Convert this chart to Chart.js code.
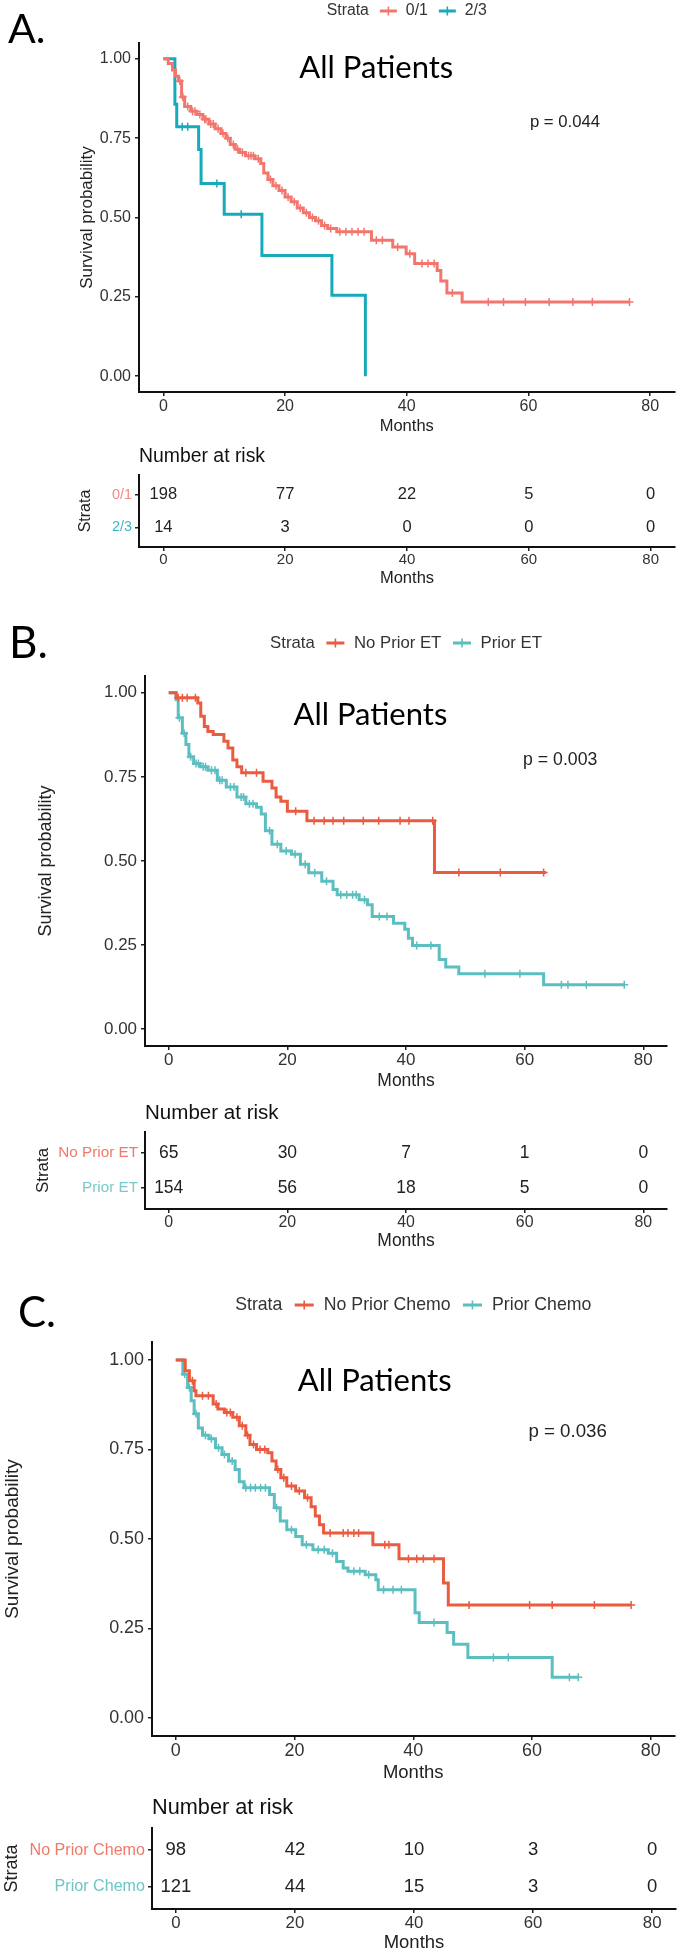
<!DOCTYPE html>
<html>
<head>
<meta charset="utf-8">
<script src="https://cdn.jsdelivr.net/npm/chart.js@4.4.1/dist/chart.umd.min.js"></script>
<style>
  body { margin: 0; background: #fff; }
  #page { position: relative; width: 680px; height: 1955px; background: #fff; overflow: hidden; }
  #page canvas { position: absolute; left: 0; }
</style>
</head>
<body>
<div id="page">
  <canvas id="kmA" width="680" height="436" style="top:0px"></canvas>
  <canvas id="riskA" width="680" height="148" style="top:440px"></canvas>
  <canvas id="kmB" width="680" height="492" style="top:600px"></canvas>
  <canvas id="riskB" width="680" height="157" style="top:1095px"></canvas>
  <canvas id="kmC" width="680" height="499" style="top:1285px"></canvas>
  <canvas id="riskC" width="680" height="167" style="top:1787px"></canvas>
</div>
<script>
// axes shared by all three panels
const months = [0, 20, 40, 60, 80];
const survTicks = [0, 0.25, 0.5, 0.75, 1];
const survTickLabels = ['0.00', '0.25', '0.50', '0.75', '1.00'];

// A. ECOG 0/1 vs 2/3
const aStrata = ['0/1', '2/3'];
const aTime01 = [0, 0.8, 1.5, 2.0, 2.5, 3.0, 3.5, 4.5, 5.5, 6.5, 7.5, 8.5, 9.5, 10.3, 11.0, 11.8, 12.5, 13.5, 15.0, 16.0, 16.5, 17.2, 18.0, 19.0, 20.0, 21.0, 22.0, 23.0, 24.0, 25.0, 26.0, 27.0, 28.5, 34.2, 37.7, 39.9, 41.3, 45.0, 45.6, 46.6, 49.1, 76.6];
const aSurv01 = [1, 0.985, 0.965, 0.945, 0.93, 0.88, 0.85, 0.835, 0.825, 0.81, 0.795, 0.78, 0.765, 0.75, 0.73, 0.715, 0.705, 0.695, 0.685, 0.67, 0.64, 0.62, 0.60, 0.585, 0.565, 0.55, 0.53, 0.515, 0.50, 0.49, 0.475, 0.465, 0.455, 0.428, 0.407, 0.386, 0.355, 0.333, 0.30, 0.262, 0.234, 0.234];
const aCens01 = [2.7, 3.2, 4.0, 4.8, 5.2, 6.0, 6.8, 7.0, 7.8, 8.2, 9.0, 9.8, 10.6, 11.5, 12.2, 13.0, 14.0, 14.4, 14.8, 15.6, 17.6, 18.5, 19.5, 20.5, 21.5, 22.5, 23.5, 24.5, 25.5, 26.5, 27.5, 29.0, 30.0, 31.0, 32.0, 33.0, 35.0, 36.0, 38.5, 40.5, 42.5, 43.5, 44.5, 47.5, 53.4, 55.9, 59.5, 63.4, 67.3, 70.5, 76.6];
const aTime23 = [0, 1.9, 2.2, 5.8, 6.2, 10.0, 16.2, 27.7, 33.2];
const aSurv23 = [1, 0.857, 0.786, 0.714, 0.607, 0.51, 0.38, 0.255, 0];
const aCens23 = [3.1, 4.0, 8.8, 12.8];
const aRisk01 = [198, 77, 22, 5, 0];
const aRisk23 = [14, 3, 0, 0, 0];

// B. prior endocrine therapy
const bStrata = ['No Prior ET', 'Prior ET'];
const bTimeNo = [0, 1.25, 4.9, 5.4, 6.0, 6.6, 7.5, 9.3, 10.0, 10.8, 11.5, 12.3, 15.9, 17.4, 18.1, 18.9, 20.0, 23.3, 44.8, 63.6];
const bSurvNo = [1, 0.985, 0.97, 0.93, 0.90, 0.885, 0.876, 0.856, 0.836, 0.80, 0.78, 0.762, 0.737, 0.717, 0.69, 0.678, 0.648, 0.62, 0.466, 0.466];
const bCensNo = [1.6, 2.3, 3.1, 4.5, 13.0, 14.8, 21.4, 24.5, 26.2, 27.7, 29.5, 32.8, 35.4, 39.0, 40.5, 44.5, 48.9, 55.9, 63.2];
const bTimeYes = [0, 1.25, 1.6, 2.3, 2.9, 3.4, 4.2, 5.3, 6.6, 8.2, 9.7, 11.5, 13.0, 14.8, 15.6, 16.3, 17.4, 18.9, 20.7, 22.2, 23.6, 25.8, 27.7, 28.4, 32.1, 33.5, 34.3, 37.9, 39.8, 40.4, 41.1, 45.6, 46.7, 48.9, 63.2, 76.8];
const bSurvYes = [1, 0.98, 0.926, 0.88, 0.846, 0.81, 0.79, 0.78, 0.77, 0.74, 0.72, 0.69, 0.67, 0.66, 0.64, 0.59, 0.55, 0.53, 0.52, 0.49, 0.465, 0.44, 0.415, 0.40, 0.385, 0.37, 0.335, 0.315, 0.297, 0.27, 0.249, 0.207, 0.185, 0.165, 0.132, 0.132];
const bCensYes = [1.8, 2.6, 3.7, 4.6, 5.0, 5.8, 6.2, 7.2, 7.8, 8.6, 9.0, 10.4, 11.0, 12.2, 12.6, 13.6, 14.2, 17.0, 18.3, 19.8, 21.3, 23.0, 24.6, 26.6, 29.0, 30.0, 31.0, 31.6, 33.0, 35.5, 36.8, 41.8, 44.2, 53.3, 59.2, 66.2, 67.3, 70.4, 76.8];
const bRiskNo = [65, 30, 7, 1, 0];
const bRiskYes = [154, 56, 18, 5, 0];

// C. prior chemotherapy
const cStrata = ['No Prior Chemo', 'Prior Chemo'];
const cTimeNo = [0, 1.6, 2.3, 3.1, 3.4, 6.3, 7.1, 8.2, 9.6, 10.7, 11.8, 12.5, 13.6, 15.5, 16.2, 16.9, 17.7, 18.7, 20.2, 21.7, 22.8, 23.5, 24.2, 24.9, 33.2, 37.6, 45.1, 45.9, 76.7];
const cSurvNo = [1, 0.97, 0.942, 0.914, 0.90, 0.877, 0.863, 0.853, 0.84, 0.816, 0.79, 0.764, 0.75, 0.741, 0.718, 0.694, 0.671, 0.648, 0.634, 0.615, 0.59, 0.564, 0.54, 0.517, 0.484, 0.445, 0.377, 0.316, 0.316];
const cCensNo = [2.8, 4.5, 5.5, 6.8, 8.6, 9.2, 10.3, 11.2, 12.1, 13.1, 14.2, 15.0, 17.2, 18.2, 19.5, 20.8, 22.2, 26.0, 28.2, 29.0, 30.0, 30.8, 35.2, 35.9, 39.2, 40.6, 41.7, 43.5, 49.4, 59.6, 63.4, 70.5, 76.7];
const cTimeYes = [0, 1.2, 2.0, 2.6, 3.1, 3.8, 4.5, 5.6, 6.7, 7.8, 8.9, 10.0, 10.7, 11.5, 15.8, 16.6, 17.6, 18.7, 20.2, 21.3, 23.1, 25.7, 27.1, 28.2, 29.0, 31.9, 33.7, 34.1, 40.3, 41.0, 45.7, 46.8, 49.2, 63.4, 67.8];
const cSurvYes = [1, 0.96, 0.923, 0.886, 0.85, 0.81, 0.79, 0.78, 0.755, 0.736, 0.718, 0.694, 0.66, 0.643, 0.624, 0.587, 0.55, 0.526, 0.507, 0.484, 0.47, 0.46, 0.437, 0.419, 0.41, 0.40, 0.386, 0.358, 0.294, 0.267, 0.239, 0.206, 0.169, 0.114, 0.114];
const cCensYes = [1.5, 2.3, 3.4, 5.0, 6.0, 7.2, 8.2, 9.5, 11.8, 12.6, 13.4, 14.3, 15.1, 17.0, 19.5, 22.0, 24.0, 25.0, 26.4, 30.0, 31.0, 32.5, 35.0, 36.6, 38.0, 43.5, 53.5, 56.0, 66.3, 67.8];
const cRiskNo = [98, 42, 10, 3, 0];
const cRiskYes = [121, 44, 15, 3, 0];

const SANS = '"Liberation Sans", Arial, sans-serif';
Chart.defaults.font.family = SANS;
Chart.defaults.color = '#333';

// value of a KM step curve at time t (for placing censor ticks on the curve)
function stepAt(times, surv, t) {
    let v = surv[0];
    for (let i = 0; i < times.length; i++) if (times[i] <= t) v = surv[i];
    return v;
}

const kmDecor = {
    id: 'kmDecor',
    afterDraw(chart, args, o) {
        const { ctx, chartArea, scales: { x, y } } = chart;
        const k = o.k;
        ctx.save();
        ctx.fillStyle = '#000';
        ctx.textAlign = 'left';
        ctx.textBaseline = 'alphabetic';
        ctx.font = o.letterSize + 'px Lato';
        ctx.fillText(o.letter, o.letterX, o.letterY);

        ctx.textAlign = 'center';
        ctx.textBaseline = 'middle';
        ctx.font = '31px Lato';
        ctx.fillText('All Patients', x.getPixelForValue(o.headX), y.getPixelForValue(o.headY));

        ctx.fillStyle = '#222';
        ctx.font = (16.7 * k) + 'px ' + SANS;
        ctx.fillText(o.pval, x.getPixelForValue(66), y.getPixelForValue(0.8));

        // legend: Strata  -+- a  -+- b
        ctx.font = (15.8 * k) + 'px ' + SANS;
        ctx.fillStyle = '#333';
        const keyW = 17 * k, g1 = 11 * k, g2 = 9 * k, g3 = 11 * k;
        const w0 = ctx.measureText('Strata').width;
        const ws = o.names.map(n => ctx.measureText(n).width);
        let total = w0 + g1;
        ws.forEach((w, i) => { total += keyW + g2 + w + (i < ws.length - 1 ? g3 : 0); });
        let lx = (chartArea.left + chartArea.right) / 2 - total / 2;
        const ly = o.legendY;
        ctx.textAlign = 'left';
        ctx.fillText('Strata', lx, ly);
        lx += w0 + g1;
        o.names.forEach((n, i) => {
            ctx.strokeStyle = o.colors[i];
            ctx.lineWidth = 3;
            ctx.beginPath(); ctx.moveTo(lx, ly); ctx.lineTo(lx + keyW, ly); ctx.stroke();
            ctx.lineWidth = 1.6;
            ctx.beginPath(); ctx.moveTo(lx + keyW / 2, ly - 4.5); ctx.lineTo(lx + keyW / 2, ly + 4.5); ctx.stroke();
            lx += keyW + g2;
            ctx.fillStyle = '#333';
            ctx.fillText(n, lx, ly);
            lx += ws[i] + g3;
        });
        ctx.restore();
    }
};

const riskDecor = {
    id: 'riskDecor',
    afterDraw(chart, args, o) {
        const { ctx, chartArea, scales: { x, y } } = chart;
        const k = o.k;
        ctx.save();
        ctx.fillStyle = '#111';
        ctx.textAlign = 'left';
        ctx.textBaseline = 'middle';
        ctx.font = (19.4 * k) + 'px ' + SANS;
        ctx.fillText('Number at risk', chartArea.left, chartArea.top - o.headGap);
        ctx.font = (16.5 * k) + 'px ' + SANS;
        ctx.fillStyle = '#222';
        ctx.textAlign = 'center';
        o.rows.forEach((row, r) => {
            row.forEach((n, i) => {
                ctx.fillText(String(n), x.getPixelForValue(months[i]), y.getPixelForValue(r + 1));
            });
        });
        ctx.restore();
    }
};

function axisX(h, pad, tickSize, titleSize) {
    return {
        type: 'linear', min: -4, max: 84,
        afterBuildTicks: sc => { sc.ticks = months.map(v => ({ value: v })); },
        afterFit: sc => { sc.height = h; },
        ticks: { autoSkip: false, padding: pad, font: { size: tickSize }, color: '#333', callback: (v, i) => String(months[i]) },
        grid: { drawOnChartArea: false, tickLength: 4, color: '#222', lineWidth: 1.5 },
        border: { display: true, color: '#111', width: 2 },
        title: { display: true, text: 'Months', font: { size: titleSize }, color: '#222', padding: 0 }
    };
}

function kmChart(id, p) {
    const k = p.k;
    const datasets = [];
    p.curves.forEach(cv => {
        datasets.push({
            data: cv.t.map((t, i) => ({ x: t, y: cv.s[i] })),
            showLine: true, stepped: 'before', borderColor: cv.color, borderWidth: 3,
            pointRadius: 0, fill: false
        });
        datasets.push({
            data: cv.c.map(t => ({ x: t, y: stepAt(cv.t, cv.s, t) })),
            showLine: false, pointStyle: 'cross', pointRadius: 4,
            borderColor: cv.color, borderWidth: 1.5, backgroundColor: cv.color
        });
    });
    new Chart(document.getElementById(id), {
        type: 'scatter',
        data: { datasets: datasets },
        options: {
            responsive: false, animation: false, events: [],
            layout: { padding: { top: p.padTop, right: p.padRight, left: 0, bottom: 0 } },
            plugins: {
                legend: { display: false }, tooltip: { enabled: false },
                kmDecor: Object.assign({ k: k }, p.decor)
            },
            scales: {
                x: axisX(p.xH, p.xPad, 16 * k, 16.5 * k),
                y: {
                    type: 'linear', min: -0.05, max: 1.05,
                    afterBuildTicks: sc => { sc.ticks = survTicks.map(v => ({ value: v })); },
                    afterFit: sc => { sc.width = p.left; },
                    ticks: { autoSkip: false, padding: 4, font: { size: 16 * k }, color: '#333', callback: (v, i) => survTickLabels[i] },
                    grid: { drawOnChartArea: false, tickLength: 4, color: '#222', lineWidth: 1.5 },
                    border: { display: true, color: '#111', width: 2 },
                    title: { display: true, text: 'Survival probability', font: { size: 17 * k }, color: '#222', padding: { top: p.yTitlePad, bottom: 0 } }
                }
            }
        },
        plugins: [kmDecor]
    });
}

function riskChart(id, p) {
    const k = p.k;
    new Chart(document.getElementById(id), {
        type: 'scatter',
        data: { datasets: [] },
        options: {
            responsive: false, animation: false, events: [],
            layout: { padding: { top: p.padTop, right: p.padRight, left: 0, bottom: 0 } },
            plugins: { legend: { display: false }, tooltip: { enabled: false }, riskDecor: { k: k, rows: p.rows, headGap: p.headGap } },
            scales: {
                x: axisX(p.xH, 0, 15 * k, 16.5 * k),
                y: {
                    type: 'linear', min: 0.4, max: 2.6, reverse: true,
                    afterBuildTicks: sc => { sc.ticks = [{ value: 1 }, { value: 2 }]; },
                    afterFit: sc => { sc.width = p.left; },
                    ticks: { autoSkip: false, padding: 3, font: { size: 14.4 * k }, color: c => p.labelColors[c.index], callback: (v, i) => p.names[i] },
                    grid: { drawOnChartArea: false, tickLength: 4, color: '#222', lineWidth: 1.5 },
                    border: { display: true, color: '#111', width: 2 },
                    title: { display: true, text: 'Strata', font: { size: 16 * k }, color: '#222', padding: { top: p.titlePad, bottom: 0 } }
                }
            }
        },
        plugins: [riskDecor]
    });
}

const redA = '#F3766E', blueA = '#17A9BC';
const redBC = '#EA5B40', tealBC = '#5BBEC0';

kmChart('kmA', {
    k: 1, padTop: 43, padRight: 5, left: 139, xH: 44, xPad: 1, yTitlePad: 77,
    curves: [
        { t: aTime01, s: aSurv01, c: aCens01, color: redA },
        { t: aTime23, s: aSurv23, c: aCens23, color: blueA }
    ],
    decor: { letter: 'A.', letterSize: 41, letterX: 8, letterY: 43, headX: 35, headY: 0.972, pval: 'p = 0.044', legendY: 11, names: aStrata, colors: [redA, blueA] }
});
riskChart('riskA', {
    k: 1, padTop: 35, padRight: 5, left: 139, xH: 41, titlePad: 76, headGap: 18,
    names: aStrata, labelColors: ['#F28A88', '#3FB5C6'], rows: [aRisk01, aRisk23]
});

kmChart('kmB', {
    k: 1.06, padTop: 76, padRight: 13, left: 145, xH: 46, xPad: 0, yTitlePad: 35,
    curves: [
        { t: bTimeNo, s: bSurvNo, c: bCensNo, color: redBC },
        { t: bTimeYes, s: bSurvYes, c: bCensYes, color: tealBC }
    ],
    decor: { letter: 'B.', letterSize: 44, letterX: 9, letterY: 58, headX: 34, headY: 0.935, pval: 'p = 0.003', legendY: 43, names: bStrata, colors: [redBC, tealBC] }
});
riskChart('riskB', {
    k: 1.06, padTop: 37, padRight: 13, left: 145, xH: 43, titlePad: 33, headGap: 19,
    names: bStrata, labelColors: ['#F07A68', '#78CACB'], rows: [bRiskNo, bRiskYes]
});

kmChart('kmC', {
    k: 1.12, padTop: 57, padRight: 4, left: 152, xH: 48, xPad: 0, yTitlePad: 1,
    curves: [
        { t: cTimeNo, s: cSurvNo, c: cCensNo, color: redBC },
        { t: cTimeYes, s: cSurvYes, c: cCensYes, color: tealBC }
    ],
    decor: { letter: 'C.', letterSize: 42, letterX: 18, letterY: 42, headX: 33.5, headY: 0.94, pval: 'p = 0.036', legendY: 20, names: cStrata, colors: [redBC, tealBC] }
});
riskChart('riskC', {
    k: 1.12, padTop: 41, padRight: 4, left: 152, xH: 45, titlePad: 1, headGap: 20,
    names: cStrata, labelColors: ['#F07A68', '#6CC6C6'], rows: [cRiskNo, cRiskYes]
});
</script>
</body>
</html>
